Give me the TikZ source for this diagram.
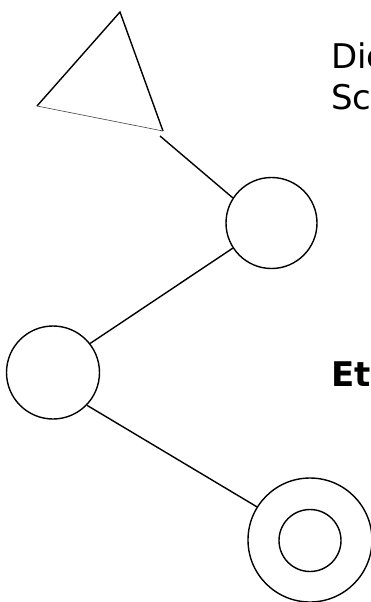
\documentclass[tikz,border=0pt]{standalone}
\usepackage{fontspec}
\setmainfont{DejaVu Sans}
\begin{document}
\begin{tikzpicture}[x=1pt,y=-1pt,
  edge/.style={line width=1.4pt},
  ring/.style={circle,draw,line width=1.4pt,inner sep=0pt},
  lbl/.style={anchor=base west,inner sep=0pt,font=\fontsize{34}{40}\selectfont}]
\useasboundingbox (0,0) rectangle (371,602);
% triangle
\coordinate (t1) at (120,12);
\coordinate (t2) at (37,106);
\coordinate (t3) at (163,131);
\draw[edge,line join=miter] (t2) -- (t1) -- (t3);
\draw[line width=0.6pt,black!75] (t2) -- (t3);
\coordinate (tend) at (160,136);
% circles
\node[ring,minimum size=91pt] (c1) at (271.5,223) {};
\node[ring,minimum size=93pt] (c2) at (53,372.5) {};
\node[ring,minimum size=124pt] (c3) at (310,540) {};
\node[ring,minimum size=62pt] (c3i) at (310,540.5) {};
% connectors
\draw[edge] (tend) -- (c1.147);
\draw[edge] (c1.213) -- (c2.38);
\draw[edge] (c2.-44) -- (c3.148);
% texts
\node[lbl] (l1) at (331,68) {Die};
\node[lbl] (l2) at (331,109) {Sc};
\node[lbl,font=\fontsize{34}{40}\selectfont\bfseries] (l3) at (331,386) {Et};
\end{tikzpicture}
\end{document}
